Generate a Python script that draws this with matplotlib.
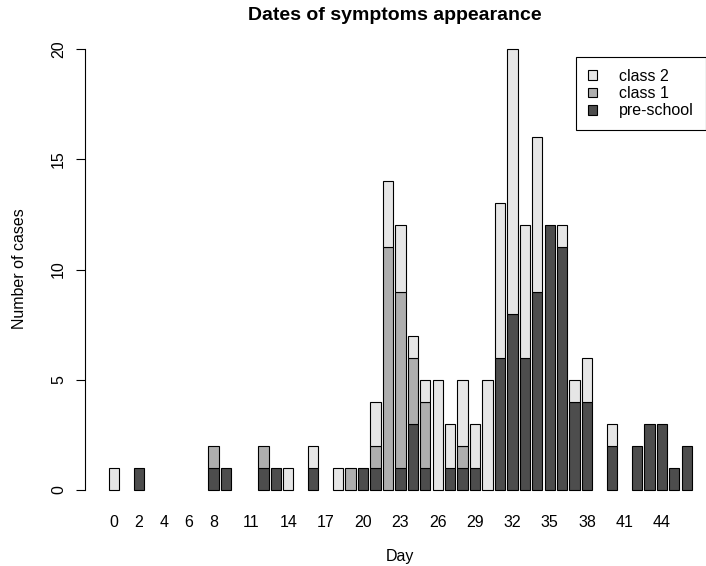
import numpy as np
import matplotlib
matplotlib.use('Agg')
import matplotlib.pyplot as plt
from matplotlib.patches import Patch

plt.rcParams['font.family'] = ['Liberation Sans', 'DejaVu Sans']

# cases per day, day 0 .. 46
days = list(range(47))
preschool = [0, 0, 1, 0, 0, 0, 0, 0, 1, 1, 0, 0, 1, 1, 0, 0, 1, 0, 0, 0,
             1, 1, 0, 1, 3, 1, 0, 1, 1, 1, 0, 6, 8, 6, 9, 12, 11, 4, 4, 0,
             2, 0, 2, 3, 3, 1, 2]
class1 = [0, 0, 0, 0, 0, 0, 0, 0, 1, 0, 0, 0, 1, 0, 0, 0, 0, 0, 0, 1,
          0, 1, 11, 8, 3, 3, 0, 0, 1, 0, 0, 0, 0, 0, 0, 0, 0, 0, 0, 0,
          0, 0, 0, 0, 0, 0, 0]
class2 = [1, 0, 0, 0, 0, 0, 0, 0, 0, 0, 0, 0, 0, 0, 1, 0, 1, 0, 1, 0,
          0, 2, 3, 3, 1, 1, 5, 2, 3, 2, 5, 7, 12, 6, 7, 0, 1, 1, 2, 0,
          1, 0, 0, 0, 0, 0, 0]
shown_days = [0, 2, 4, 6, 8, 11, 14, 17, 20, 23, 26, 29, 32, 35, 38, 41, 44]

colors = {'pre-school': '#4D4D4D', 'class 1': '#AEAEAE', 'class 2': '#E6E6E6'}
fs = 11.5

W, H = 706, 566
fig = plt.figure(figsize=(W / 100, H / 100), dpi=100)
# plot region in pixels: x 85..706, y 31.4..507.6
ax = fig.add_axes([85 / W, 1 - 507.6 / H, 621 / W, (507.6 - 31.4) / H])

x = np.array(days)
bottom = np.zeros(len(days))
for name, vals in [('pre-school', preschool), ('class 1', class1), ('class 2', class2)]:
    v = np.array(vals, dtype=float)
    m = v > 0
    ax.bar(x[m], v[m], bottom=bottom[m], width=1 / 1.2, color=colors[name],
           edgecolor='black', linewidth=0.8)
    bottom += v

ax.set_xlim((85 - 114) / 12.45, (706 - 114) / 12.45)
ax.set_ylim(-0.8, 20.8)

for s in ['top', 'right', 'bottom']:
    ax.spines[s].set_visible(False)
ax.spines['left'].set_bounds(0, 20)
ax.spines['left'].set_linewidth(0.8)

ax.set_yticks([0, 5, 10, 15, 20])
ax.tick_params(axis='y', length=6.5, width=0.8, pad=7, labelsize=fs)
for lab in ax.get_yticklabels():
    lab.set_rotation(90)
    lab.set_va('center')

ax.set_xticks(shown_days)
ax.set_xticklabels([str(d) for d in shown_days])
ax.tick_params(axis='x', length=0, pad=5.5, labelsize=fs)

fig.text(395 / W, 1 - 15 / H, 'Dates of symptoms appearance', ha='center', va='center',
         fontsize=14, fontweight='bold')
fig.text(400 / W, 1 - 556 / H, 'Day', ha='center', va='center', fontsize=fs)
fig.text(20 / W, 1 - 269 / H, 'Number of cases', ha='center', va='center',
         rotation=90, fontsize=fs)

handles = [Patch(facecolor=colors[n], edgecolor='black', linewidth=0.8)
           for n in ['class 2', 'class 1', 'pre-school']]
leg = ax.legend(handles, ['class 2', 'class 1', 'pre-school'], loc='upper right',
                bbox_to_anchor=(706 / W, 1 - 56.7 / H), bbox_transform=fig.transFigure,
                fancybox=False, edgecolor='black', fontsize=fs, handlelength=0.55,
                handleheight=0.55, handletextpad=1.4, labelspacing=0.15,
                borderpad=0.75, borderaxespad=0, framealpha=1)
leg.get_frame().set_linewidth(0.8)

fig.savefig('out.png', dpi=100)
